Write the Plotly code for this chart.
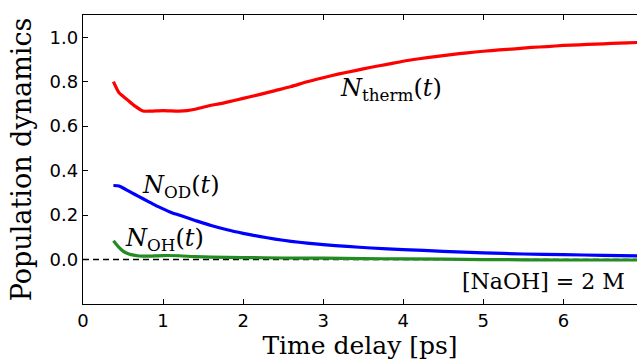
import plotly.graph_objects as go

# ---- data ----
t_therm = [0.38, 0.45, 0.55, 0.65, 0.75, 0.85, 1.0, 1.2, 1.3, 1.4, 1.5, 1.6, 1.7, 1.8,
           2.0, 2.2, 2.4, 2.6, 2.8, 3.0, 3.2, 3.4, 3.6, 3.8, 4.0, 4.2, 4.4, 4.6, 4.8,
           5.0, 5.2, 5.4, 5.6, 5.8, 6.0, 6.2, 6.4, 6.6, 6.8, 7.0]
n_therm = [0.80, 0.75, 0.72, 0.69, 0.668, 0.668, 0.670, 0.668, 0.670, 0.676, 0.685, 0.694,
           0.700, 0.708, 0.725, 0.742, 0.760, 0.778, 0.800, 0.818, 0.835, 0.850, 0.865,
           0.878, 0.892, 0.903, 0.913, 0.922, 0.930, 0.937, 0.943, 0.948, 0.954, 0.958,
           0.963, 0.966, 0.969, 0.972, 0.975, 0.977]

t_od = [0.38, 0.45, 0.5, 0.6, 0.7, 0.8, 0.9, 1.0, 1.1, 1.2, 1.4, 1.6, 1.8, 2.0, 2.2, 2.4,
        2.6, 2.8, 3.0, 3.3, 3.6, 4.0, 4.5, 5.0, 5.5, 6.0, 6.5, 7.0]
n_od = [0.333, 0.331, 0.322, 0.302, 0.283, 0.264, 0.245, 0.228, 0.212, 0.200, 0.176, 0.153,
        0.134, 0.118, 0.104, 0.092, 0.082, 0.074, 0.067, 0.059, 0.052, 0.045, 0.037, 0.030,
        0.025, 0.022, 0.019, 0.016]

t_oh = [0.38, 0.45, 0.5, 0.55, 0.6, 0.7, 0.8, 1.0, 1.2, 1.4, 1.6, 2.0, 2.5, 3.0, 3.5, 4.0,
        5.0, 6.0, 7.0]
n_oh = [0.085, 0.055, 0.038, 0.028, 0.022, 0.016, 0.015, 0.018, 0.017, 0.013, 0.011, 0.009,
        0.007, 0.006, 0.004, 0.003, 0.0, -0.002, -0.002]

x_ticks = [0, 1, 2, 3, 4, 5, 6]
y_ticks = [0.0, 0.2, 0.4, 0.6, 0.8, 1.0]
y_tick_labels = ["0.0", "0.2", "0.4", "0.6", "0.8", "1.0"]

SERIF = "DejaVu Serif"
SANS = "DejaVu Sans"

fig = go.Figure()
fig.add_trace(go.Scatter(x=[0, 7], y=[0, 0], mode="lines",
                         line=dict(color="black", width=1.5, dash="6px,4px"),
                         showlegend=False, hoverinfo="skip"))
for tx, ny, col in [(t_therm, n_therm, "#ff0000"), (t_od, n_od, "#0000ff"),
                    (t_oh, n_oh, "#228B22")]:
    fig.add_trace(go.Scatter(x=tx, y=ny, mode="lines",
                             line=dict(color=col, width=3.2, shape="spline", smoothing=0.6),
                             showlegend=False))

ann_font = dict(family=SERIF, size=24, color="black")
fig.add_annotation(x=3.85, y=0.763, text="<i>N</i><sub>therm</sub>(<i>t</i>)",
                   showarrow=False, font=ann_font)
fig.add_annotation(x=1.23, y=0.327, text="<i>N</i><sub>OD</sub>(<i>t</i>)",
                   showarrow=False, font=ann_font)
fig.add_annotation(x=1.02, y=0.089, text="<i>N</i><sub>OH</sub>(<i>t</i>)",
                   showarrow=False, font=ann_font)
fig.add_annotation(x=5.75, y=-0.1, text="[NaOH] = 2 M",
                   showarrow=False, font=dict(family=SERIF, size=22, color="black"))

fig.update_layout(
    width=637, height=364,
    margin=dict(l=83, r=0, t=15, b=60),
    paper_bgcolor="white", plot_bgcolor="white",
    xaxis=dict(range=[0, 6.92], tickvals=x_ticks, ticks="inside", ticklen=5,
               tickwidth=1, tickcolor="black", showline=True, linecolor="black",
               linewidth=1.3, mirror="ticks", showgrid=False, zeroline=False,
               tickfont=dict(family=SANS, size=18, color="black"),
               title=dict(text="Time delay [ps]", font=dict(family=SERIF, size=25, color="black"),
                          standoff=4)),
    yaxis=dict(range=[-0.2, 1.1], tickvals=y_ticks, ticktext=y_tick_labels, ticks="inside",
               ticklen=5, tickwidth=1, tickcolor="black", showline=True, linecolor="black",
               linewidth=1.3, showgrid=False, zeroline=False,
               tickfont=dict(family=SANS, size=18, color="black"),
               title=dict(text="Population dynamics", font=dict(family=SERIF, size=27, color="black"),
                          standoff=10)),
)

fig.write_html("out.html")
